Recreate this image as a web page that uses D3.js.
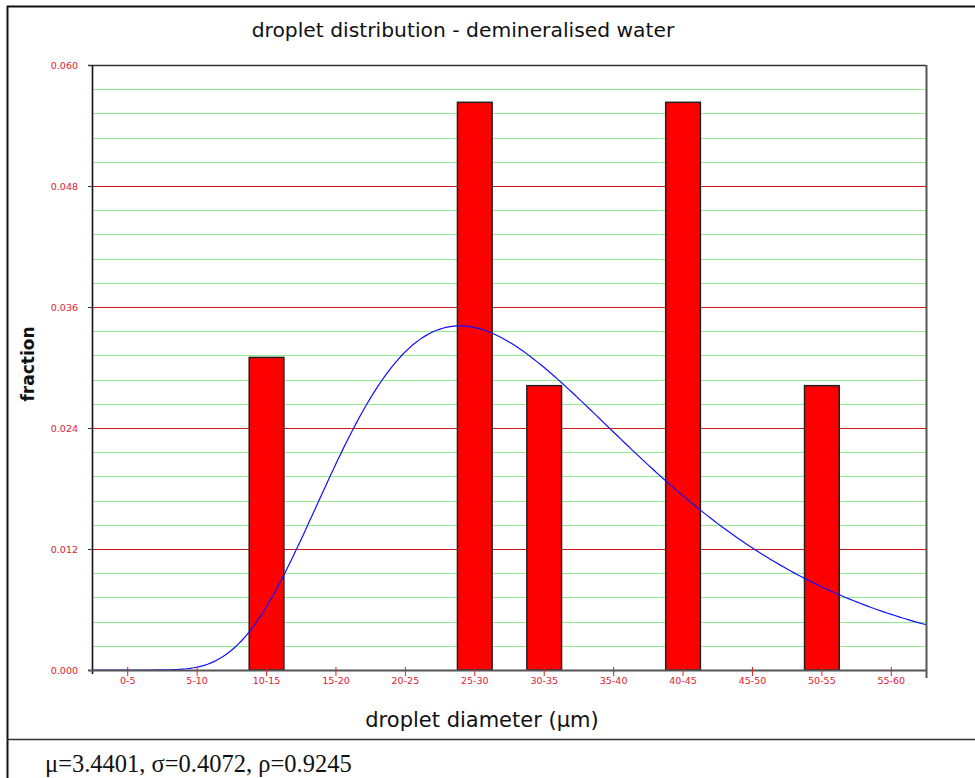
<!DOCTYPE html>
<html>
<head>
<meta charset="utf-8">
<script src="https://cdn.jsdelivr.net/npm/d3@7"></script>
<style>
  html, body { margin: 0; padding: 0; background: #fff; }
  svg { display: block; }
</style>
</head>
<body>
<svg id="chart" width="975" height="778"></svg>
<script>
// Size classes (µm) and the measured fraction per µm in each class
const categories = ["0-5", "5-10", "10-15", "15-20", "20-25", "25-30", "30-35", "35-40", "40-45", "45-50", "50-55", "55-60"];
const fractions  = [0, 0, 0.0310, 0, 0, 0.0563, 0.0282, 0, 0.0563, 0, 0.0282, 0];
const yTicks     = [0.000, 0.012, 0.024, 0.036, 0.048, 0.060];
const yMinorStep = 0.0024;

// Log-normal fit parameters (printed under the chart)
const mu = 3.4401;
const sigma = 0.4072;
const rho = 0.9245;
const diameterMax = 60;

const svg = d3.select("#chart");
const W = 975, H = 778;
const plot = { left: 93, right: 926, top: 65, bottom: 670 };

const x = d3.scaleBand().domain(categories).range([plot.left, plot.right]).padding(0);
const xd = d3.scaleLinear().domain([0, diameterMax]).range([plot.left, plot.right]);
const y = d3.scaleLinear().domain([0, 0.06]).range([plot.bottom, plot.top]);

// Outer frame and footer separator
svg.append("rect").attr("x", 0).attr("y", 0).attr("width", W).attr("height", H).attr("fill", "#fff");
svg.append("path")
  .attr("d", `M7.5,${H} V6.5 H${W}`)
  .attr("fill", "none").attr("stroke", "#111").attr("stroke-width", 2);
svg.append("line")
  .attr("x1", 7).attr("x2", W).attr("y1", 739.5).attr("y2", 739.5)
  .attr("stroke", "#333").attr("stroke-width", 1.5);

// Minor (green) and major (red) horizontal grid lines
const nMinor = Math.round(0.06 / yMinorStep);
const minorVals = d3.range(1, nMinor).filter(i => i % 5 !== 0).map(i => i * yMinorStep);
svg.append("g").attr("shape-rendering", "crispEdges").selectAll("line").data(minorVals).join("line")
  .attr("x1", plot.left).attr("x2", plot.right)
  .attr("y1", d => Math.round(y(d)) + 0.5).attr("y2", d => Math.round(y(d)) + 0.5)
  .attr("stroke", "#90ee90").attr("stroke-width", 1);
svg.append("g").attr("shape-rendering", "crispEdges").selectAll("line").data(yTicks.filter(v => v > 0 && v < 0.06)).join("line")
  .attr("x1", plot.left - 5).attr("x2", plot.right)
  .attr("y1", d => Math.round(y(d)) + 0.5).attr("y2", d => Math.round(y(d)) + 0.5)
  .attr("stroke", "#d01818").attr("stroke-width", 1);

// Histogram bars, half a class wide, centred in each class
svg.append("g").selectAll("rect").data(categories.map((c, i) => ({ c, v: fractions[i] })).filter(d => d.v > 0)).join("rect")
  .attr("x", d => x(d.c) + x.bandwidth() / 4)
  .attr("width", x.bandwidth() / 2)
  .attr("y", d => y(d.v))
  .attr("height", d => y(0) - y(d.v))
  .attr("fill", "#ff0000").attr("stroke", "#222").attr("stroke-width", 1.5);

// Fitted log-normal density curve
const lognormal = d => d <= 0 ? 0 :
  Math.exp(-Math.pow(Math.log(d) - mu, 2) / (2 * sigma * sigma)) / (d * sigma * Math.sqrt(2 * Math.PI));
const curveDiameters = d3.range(0, diameterMax + 0.001, 0.25);
svg.append("path")
  .datum(curveDiameters)
  .attr("d", d3.line().x(d => xd(d)).y(d => y(lognormal(d))))
  .attr("fill", "none").attr("stroke", "#1010ff").attr("stroke-width", 1.2);

// Plot border: dark axes on left/bottom, grey on top/right
svg.append("line").attr("x1", plot.left - 5).attr("x2", plot.right).attr("y1", plot.top + 0.5).attr("y2", plot.top + 0.5)
  .attr("stroke", "#333").attr("stroke-width", 1.3);
svg.append("line").attr("x1", plot.right + 0.5).attr("x2", plot.right + 0.5).attr("y1", plot.top).attr("y2", plot.bottom + 8)
  .attr("stroke", "#555").attr("stroke-width", 2);
svg.append("line").attr("x1", plot.left - 0.5).attr("x2", plot.left - 0.5).attr("y1", plot.top).attr("y2", plot.bottom + 4)
  .attr("stroke", "#111").attr("stroke-width", 1.6);

// Y axis
const yAxis = svg.append("g").attr("transform", `translate(${plot.left},0)`)
  .call(d3.axisLeft(y).tickValues(yTicks).tickFormat(d3.format(".3f")).tickSize(5).tickPadding(10));
yAxis.select(".domain").remove();
yAxis.selectAll(".tick line").attr("stroke", "#333");
yAxis.selectAll(".tick text")
  .attr("fill", "#e02030").attr("font-family", "DejaVu Sans, sans-serif").attr("font-size", 9.5);

// X axis
const xAxis = svg.append("g").attr("transform", `translate(0,${plot.bottom})`)
  .call(d3.axisBottom(x).tickSize(5).tickPadding(2));
xAxis.select(".domain").attr("stroke", "#555").attr("stroke-width", 2).attr("d", `M${plot.left - 5},0.5H${plot.right}`);
xAxis.selectAll(".tick line").attr("stroke", "#e02020").attr("y1", -3).attr("y2", 6);
xAxis.selectAll(".tick text")
  .attr("fill", "#e02030").attr("font-family", "DejaVu Sans, sans-serif").attr("font-size", 9.5);

// Titles
svg.append("text").attr("x", 463).attr("y", 37).attr("text-anchor", "middle")
  .attr("font-family", "DejaVu Sans, sans-serif").attr("font-size", 20.3).attr("fill", "#111")
  .text("droplet distribution - demineralised water");
svg.append("text").attr("transform", "translate(34,364) rotate(-90)").attr("text-anchor", "middle")
  .attr("font-family", "DejaVu Sans, sans-serif").attr("font-size", 17).attr("font-weight", "bold").attr("fill", "#111")
  .text("fraction");
svg.append("text").attr("x", 482).attr("y", 727).attr("text-anchor", "middle")
  .attr("font-family", "DejaVu Sans, sans-serif").attr("font-size", 21).attr("fill", "#111")
  .text("droplet diameter (µm)");

// Fit summary
svg.append("text").attr("x", 45).attr("y", 772)
  .attr("font-family", "Liberation Serif, serif").attr("font-size", 24.5).attr("fill", "#111")
  .text(`μ=${mu.toFixed(4)}, σ=${sigma.toFixed(4)}, ρ=${rho.toFixed(4)}`);
</script>
</body>
</html>
